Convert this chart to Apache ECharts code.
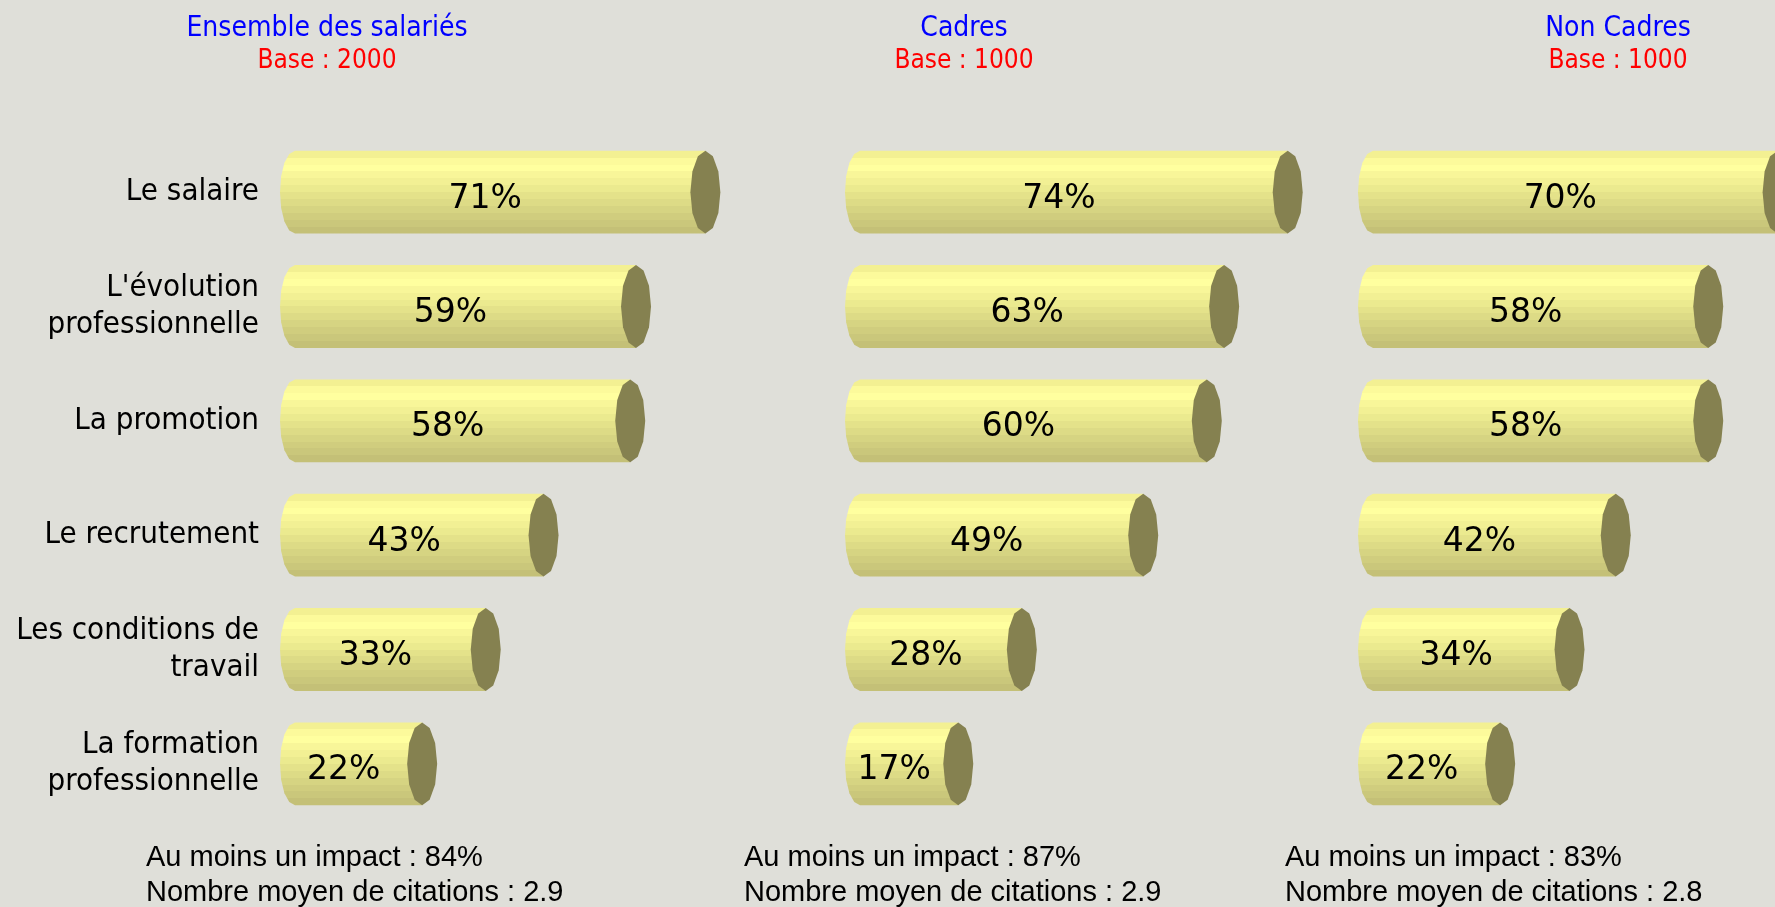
<!DOCTYPE html>
<html>
<head>
<meta charset="utf-8">
<script src="https://cdn.jsdelivr.net/npm/echarts@6/dist/echarts.min.js"></script>
<style>
  html, body { margin: 0; padding: 0; background: #dfdfd9; }
  #main { width: 1775px; height: 907px; }
</style>
</head>
<body>
<div id="main"></div>
<script>
// données
var categories = ['Le salaire', "L'évolution\nprofessionnelle", 'La promotion', 'Le recrutement', 'Les conditions de\ntravail', 'La formation\nprofessionnelle'];
var ensemble = [71, 59, 58, 43, 33, 22];
var cadres = [74, 63, 60, 49, 28, 17];
var nonCadres = [70, 58, 58, 42, 34, 22];
var panelTitles = ['Ensemble des salariés', 'Cadres', 'Non Cadres'];
var bases = [2000, 1000, 1000];
var impacts = [84, 87, 83];
var citations = ['2.9', '2.9', '2.8'];

var myChart = echarts.init(document.getElementById('main'));

// bandes du cylindre (haut -> bas)
var bandColors = ['#f3f092', '#fcfa9b', '#ffff9f', '#f8f699', '#f2f094', '#ebea8f', '#e4e28a', '#dddb86', '#d6d482', '#d0cd7e', '#cac77b', '#c4c077'];
var stops = [];
for (var i = 0; i < bandColors.length; i++) {
	stops.push({ offset: i / bandColors.length, color: bandColors[i] });
	stops.push({ offset: (i + 1) / bandColors.length, color: bandColors[i] });
}
var bodyFill = new echarts.graphic.LinearGradient(0, 0, 0, 1, stops);

function ellipsePts(cx, cy, rx, ry, a0, a1, n) {
	var pts = [];
	for (var k = 0; k <= n; k++) {
		var a = a0 + (a1 - a0) * k / n;
		pts.push([cx + rx * Math.cos(a), cy + ry * Math.sin(a)]);
	}
	return pts;
}

function renderCylinder(params, api) {
	var idx = api.value(1);
	var val = api.value(0);
	var p0 = api.coord([0, idx]);
	var p1 = api.coord([val, idx]);
	var h = api.size([0, 1])[1] * 0.725;
	var ry = h / 2, rx = 15, yc = p0[1];
	// corps : extrémité gauche arrondie + rectangle
	var body = ellipsePts(p0[0], yc, rx, ry, -Math.PI / 2, -Math.PI * 1.5, 8);
	body.push([p1[0], yc + ry]);
	body.push([p1[0], yc - ry]);
	var cap = ellipsePts(p1[0], yc, rx, ry, 0, Math.PI * 2, 12);
	return {
		type: 'group',
		children: [
			{ type: 'polygon', shape: { points: body }, style: { fill: bodyFill } },
			{ type: 'polygon', shape: { points: cap }, style: { fill: '#858150' } },
			{
				type: 'text',
				style: {
					text: val + '%',
					x: (p0[0] + p1[0]) / 2 - rx,
					y: yc + 7,
					align: 'center',
					verticalAlign: 'middle',
					fill: '#000',
					fontSize: 33,
					fontFamily: 'DejaVu Sans'
				}
			}
		]
	};
}

var panels = [ensemble, cadres, nonCadres];
var gridLefts = [295, 860, 1373];
var titleCenters = [327, 964, 1618];
var footLefts = [146, 744, 1285];

var grids = [], xAxes = [], yAxes = [], series = [], graphics = [];
for (var p = 0; p < 3; p++) {
	grids.push({ left: gridLefts[p], top: 135, width: 578, height: 686, outerBoundsMode: 'none', containLabel: false });
	xAxes.push({ gridIndex: p, type: 'value', min: 0, max: 100, show: false });
	yAxes.push({
		gridIndex: p,
		type: 'category',
		inverse: true,
		data: categories,
		axisLine: { show: false },
		axisTick: { show: false },
		splitLine: { show: false },
		axisLabel: {
			show: p == 0,
			margin: 36,
			color: '#000',
			fontSize: 31,
			lineHeight: 37,
			fontFamily: 'DejaVu Sans Condensed',
			align: 'right'
		}
	});
	var d = [];
	for (var j = 0; j < panels[p].length; j++) d.push([panels[p][j], j]);
	series.push({
		type: 'custom',
		xAxisIndex: p,
		yAxisIndex: p,
		clip: false,
		renderItem: renderCylinder,
		encode: { x: 0, y: 1 },
		data: d
	});
	graphics.push({
		type: 'text', x: titleCenters[p], y: 29,
		style: { text: panelTitles[p], align: 'center', verticalAlign: 'middle', fill: '#0000ff', fontSize: 28, fontFamily: 'DejaVu Sans Condensed' }
	});
	graphics.push({
		type: 'text', x: titleCenters[p], y: 61,
		style: { text: 'Base : ' + bases[p], align: 'center', verticalAlign: 'middle', fill: '#ff0000', fontSize: 26, fontFamily: 'DejaVu Sans Condensed' }
	});
	graphics.push({
		type: 'text', x: footLefts[p], y: 858,
		style: { text: 'Au moins un impact : ' + impacts[p] + '%', align: 'left', verticalAlign: 'middle', fill: '#000', fontSize: 29, fontFamily: 'Liberation Sans' }
	});
	graphics.push({
		type: 'text', x: footLefts[p], y: 893,
		style: { text: 'Nombre moyen de citations : ' + citations[p], align: 'left', verticalAlign: 'middle', fill: '#000', fontSize: 29, fontFamily: 'Liberation Sans' }
	});
}

var option = {
	backgroundColor: '#dfdfd9',
	animation: false,
	grid: grids,
	xAxis: xAxes,
	yAxis: yAxes,
	series: series,
	graphic: graphics
};
myChart.setOption(option);
</script>
</body>
</html>
